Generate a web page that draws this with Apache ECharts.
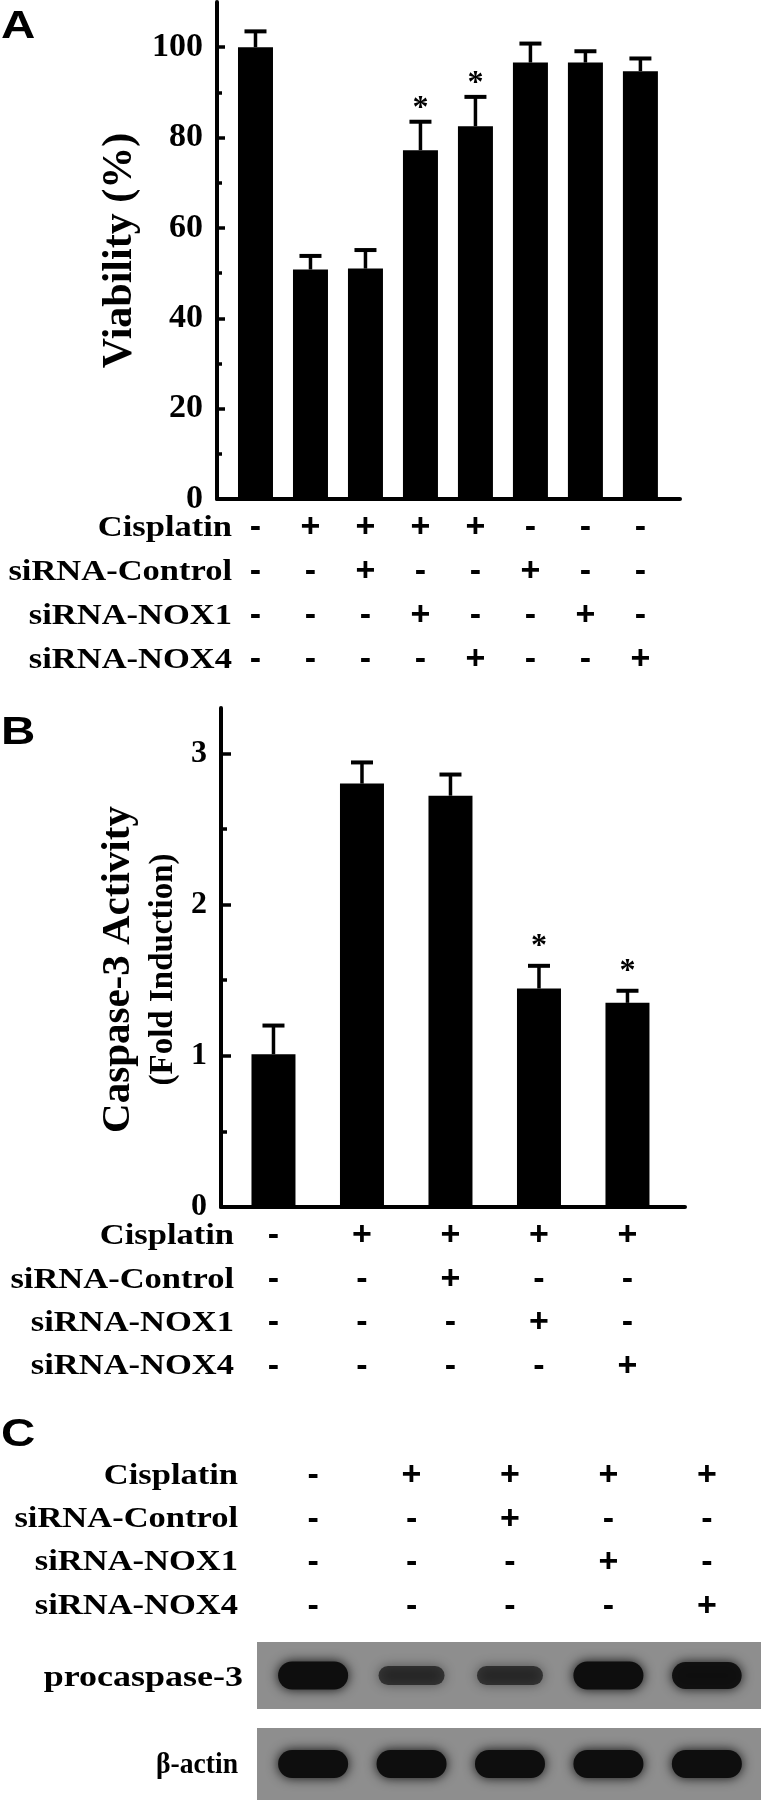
<!DOCTYPE html>
<html>
<head>
<meta charset="utf-8">
<script src="https://cdn.jsdelivr.net/npm/echarts@6/dist/echarts.min.js"></script>
<style>
html, body { margin: 0; padding: 0; background: #fff; }
#main { width: 761px; height: 1800px; }
</style>
</head>
<body>
<div id="main"></div>
<script>
// A: cell viability (%)
var viabilityMean = [100, 50.8, 51, 77.2, 82.5, 96.6, 96.6, 94.7];
var viabilityErr = [3.5, 3, 4.1, 6.3, 6.5, 4.2, 2.5, 2.8];
var viabilitySig = ['', '', '', '*', '*', '', '', ''];
var cisplatinA = ['-', '+', '+', '+', '+', '-', '-', '-'];
var controlA = ['-', '-', '+', '-', '-', '+', '-', '-'];
var nox1A = ['-', '-', '-', '+', '-', '-', '+', '-'];
var nox4A = ['-', '-', '-', '-', '+', '-', '-', '+'];
var viabilityTicks = [0, 20, 40, 60, 80, 100];
var viabilityMinor = [10, 30, 50, 70, 90];

// B: caspase-3 activity (fold induction)
var caspaseMean = [1.01, 2.80, 2.72, 1.445, 1.35];
var caspaseErr = [0.19, 0.14, 0.14, 0.15, 0.08];
var caspaseSig = ['', '', '', '*', '*'];
var cisplatinB = ['-', '+', '+', '+', '+'];
var controlB = ['-', '-', '+', '-', '-'];
var nox1B = ['-', '-', '-', '+', '-'];
var nox4B = ['-', '-', '-', '-', '+'];
var caspaseTicks = [0, 1, 2, 3];
var caspaseMinor = [0.5, 1.5, 2.5];

// C: western blot, same five lanes as B (relative band strength)
var procaspaseBand = [1.0, 0.5, 0.5, 1.0, 0.95];
var actinBand = [1.0, 1.0, 1.0, 1.0, 1.0];

var rowNames = ['Cisplatin', 'siRNA-Control', 'siRNA-NOX1', 'siRNA-NOX4'];

var SERIF = '"Liberation Serif", "Times New Roman", serif';
var SANS = '"Liberation Sans", Arial, sans-serif';

function lanes(arr) {
    return arr.map(function (v, i) { return i; });
}
function pairs(arr) {
    return arr.map(function (v, i) { return [i, v]; });
}
function signColumn(rows) {
    return function (v) {
        var i = Math.round(v);
        return rows.map(function (r) { return r[i]; }).join('\n');
    };
}
function errorBars(mean, err, sig, starGap, xi, yi) {
    return {
        type: 'custom',
        xAxisIndex: xi, yAxisIndex: yi,
        z: 5,
        data: mean.map(function (m, i) { return [i, m, err[i]]; }),
        renderItem: function (params, api) {
            var x = api.value(0), m = api.value(1), e = api.value(2);
            var base = api.coord([x, m]);
            var top = api.coord([x, m + e]);
            var kids = [
                { type: 'line', shape: { x1: base[0], y1: base[1], x2: top[0], y2: top[1] },
                  style: { stroke: '#000', lineWidth: 3.5 } },
                { type: 'line', shape: { x1: top[0] - 11, y1: top[1], x2: top[0] + 11, y2: top[1] },
                  style: { stroke: '#000', lineWidth: 4 } }
            ];
            if (sig[params.dataIndex]) {
                kids.push({ type: 'text', x: top[0], y: top[1] - starGap,
                    style: { text: sig[params.dataIndex], fill: '#000', fontSize: 32, fontWeight: 'bold',
                             fontFamily: SERIF, align: 'center', verticalAlign: 'middle' } });
            }
            return { type: 'group', children: kids };
        }
    };
}
function bands(params, api) {
    var k = api.value(1);
    var c = api.coord([api.value(0), 0.5]);
    var w = 62 + 8 * k, h = 10 + 18 * k;
    return {
        type: 'rect',
        shape: { x: c[0] - w / 2, y: c[1] - h / 2, width: w, height: h, r: h / 2 },
        style: { fill: 'rgba(14,14,14,' + (0.3 + 0.7 * k) + ')', shadowBlur: 12,
                 shadowColor: 'rgba(0,0,0,' + (0.4 + 0.5 * k) + ')' }
    };
}
function text(x, y, str, size, family, scaleX) {
    return { type: 'text', x: x, y: y, scaleX: scaleX,
        style: { text: str, fill: '#000', fontSize: size, fontWeight: 'bold', fontFamily: family,
                 align: 'right', verticalAlign: 'middle' } };
}
function rowLabels(right, ys) {
    return rowNames.map(function (name, i) { return text(right, ys[i], name, 30, SERIF, 1.15); });
}
function tickLabel(size) {
    return { color: '#000', fontSize: size, fontWeight: 'bold', fontFamily: SERIF, margin: 14 };
}
function signLabel(rows, lineHeight, margin) {
    return {
        customValues: lanes(rows[0]),
        formatter: signColumn(rows),
        color: '#000', fontSize: 34, fontWeight: 'bold', fontFamily: SANS,
        lineHeight: lineHeight, margin: margin
    };
}
function minorAxis(grid, max, ticks, len) {
    return {
        gridIndex: grid, type: 'value', min: 0, max: max, position: 'left',
        splitLine: { show: false }, axisLine: { show: false, onZero: false }, axisLabel: { show: false },
        axisTick: { inside: true, length: len, customValues: ticks, lineStyle: { color: '#000', width: 3.5 } }
    };
}

var myChart = echarts.init(document.getElementById('main'));

var option = {
    animation: false,
    backgroundColor: '#fff',
    grid: [
        { left: 217, top: 2, width: 463, height: 497 },
        { left: 221, top: 708, width: 464, height: 499 },
        { left: 257, top: 1642, width: 504, height: 67, show: true, backgroundColor: '#8e8e8e', borderWidth: 0 },
        { left: 257, top: 1728, width: 504, height: 80, show: true, backgroundColor: '#8e8e8e', borderWidth: 0 }
    ],
    xAxis: [
        {
            gridIndex: 0, type: 'value', min: -0.7, max: 7.72,
            splitLine: { show: false }, axisTick: { show: false },
            axisLine: { onZero: false, lineStyle: { color: '#000', width: 4 } },
            axisLabel: signLabel([cisplatinA, controlA, nox1A, nox4A], 44, 7)
        },
        {
            gridIndex: 1, type: 'value', min: -0.593, max: 4.65,
            splitLine: { show: false }, axisTick: { show: false },
            axisLine: { onZero: false, lineStyle: { color: '#000', width: 4 } },
            axisLabel: signLabel([cisplatinB, controlB, nox1B, nox4B], 43.5, 7)
        },
        {
            gridIndex: 2, type: 'value', min: -0.57, max: 4.55, position: 'top',
            splitLine: { show: false }, axisTick: { show: false }, axisLine: { show: false, onZero: false },
            axisLabel: signLabel([cisplatinB, controlB, nox1B, nox4B], 43.5, 14)
        },
        {
            gridIndex: 3, type: 'value', min: -0.57, max: 4.55, show: false
        }
    ],
    yAxis: [
        {
            gridIndex: 0, type: 'value', min: 0, max: 110, position: 'left',
            name: 'Viability (%)', nameLocation: 'middle', nameRotate: 90, nameGap: 76,
            nameTextStyle: { color: '#000', fontSize: 42, fontWeight: 'bold', fontFamily: SERIF },
            splitLine: { show: false },
            axisLine: { show: true, onZero: false, lineStyle: { color: '#000', width: 4 } },
            axisTick: { inside: true, length: 8, customValues: viabilityTicks, lineStyle: { color: '#000', width: 3.5 } },
            axisLabel: Object.assign({ customValues: viabilityTicks }, tickLabel(34))
        },
        minorAxis(0, 110, viabilityMinor, 5),
        {
            gridIndex: 1, type: 'value', min: 0, max: 3.3, position: 'left',
            name: '{a|Caspase-3 Activity}\n{b|(Fold Induction)}',
            nameLocation: 'middle', nameRotate: 90, nameGap: 25,
            nameTextStyle: {
                color: '#000', fontWeight: 'bold', fontFamily: SERIF, padding: [0, 24, 0, 0],
                rich: {
                    a: { fontSize: 41, fontWeight: 'bold', fontFamily: SERIF, lineHeight: 48 },
                    b: { fontSize: 33, fontWeight: 'bold', fontFamily: SERIF, lineHeight: 42 }
                }
            },
            splitLine: { show: false },
            axisLine: { show: true, onZero: false, lineStyle: { color: '#000', width: 4 } },
            axisTick: { inside: true, length: 10, customValues: caspaseTicks, lineStyle: { color: '#000', width: 3.5 } },
            axisLabel: Object.assign({ customValues: caspaseTicks }, tickLabel(32))
        },
        minorAxis(1, 3.3, caspaseMinor, 6),
        { gridIndex: 2, type: 'value', min: 0, max: 1, show: false },
        { gridIndex: 3, type: 'value', min: 0, max: 1, show: false }
    ],
    series: [
        {
            type: 'bar', xAxisIndex: 0, yAxisIndex: 0, barWidth: 35,
            itemStyle: { color: '#000' },
            data: pairs(viabilityMean)
        },
        errorBars(viabilityMean, viabilityErr, viabilitySig, 13, 0, 0),
        {
            type: 'bar', xAxisIndex: 1, yAxisIndex: 2, barWidth: 44,
            itemStyle: { color: '#000' },
            data: pairs(caspaseMean)
        },
        errorBars(caspaseMean, caspaseErr, caspaseSig, 19, 1, 2),
        {
            type: 'custom', xAxisIndex: 2, yAxisIndex: 4,
            data: pairs(procaspaseBand), renderItem: bands
        },
        {
            type: 'custom', xAxisIndex: 3, yAxisIndex: 5,
            data: pairs(actinBand), renderItem: bands
        }
    ],
    graphic: [
        { type: 'text', x: 1, y: 28, scaleX: 1.25,
          style: { text: 'A', fill: '#000', fontSize: 38, fontWeight: 'bold', fontFamily: SANS, align: 'left', verticalAlign: 'middle' } },
        { type: 'text', x: 1, y: 734, scaleX: 1.25,
          style: { text: 'B', fill: '#000', fontSize: 38, fontWeight: 'bold', fontFamily: SANS, align: 'left', verticalAlign: 'middle' } },
        { type: 'text', x: 1, y: 1436, scaleX: 1.25,
          style: { text: 'C', fill: '#000', fontSize: 38, fontWeight: 'bold', fontFamily: SANS, align: 'left', verticalAlign: 'middle' } }
    ]
        .concat(rowLabels(232, [528, 572, 616, 660]))
        .concat(rowLabels(234, [1236, 1280, 1323, 1366]))
        .concat(rowLabels(238, [1476, 1519, 1562, 1606]))
        .concat([
            text(243, 1678, 'procaspase-3', 30, SERIF, 1.2),
            text(238, 1765, 'β-actin', 30, SERIF, 0.92)
        ])
};

myChart.setOption(option);
</script>
</body>
</html>
